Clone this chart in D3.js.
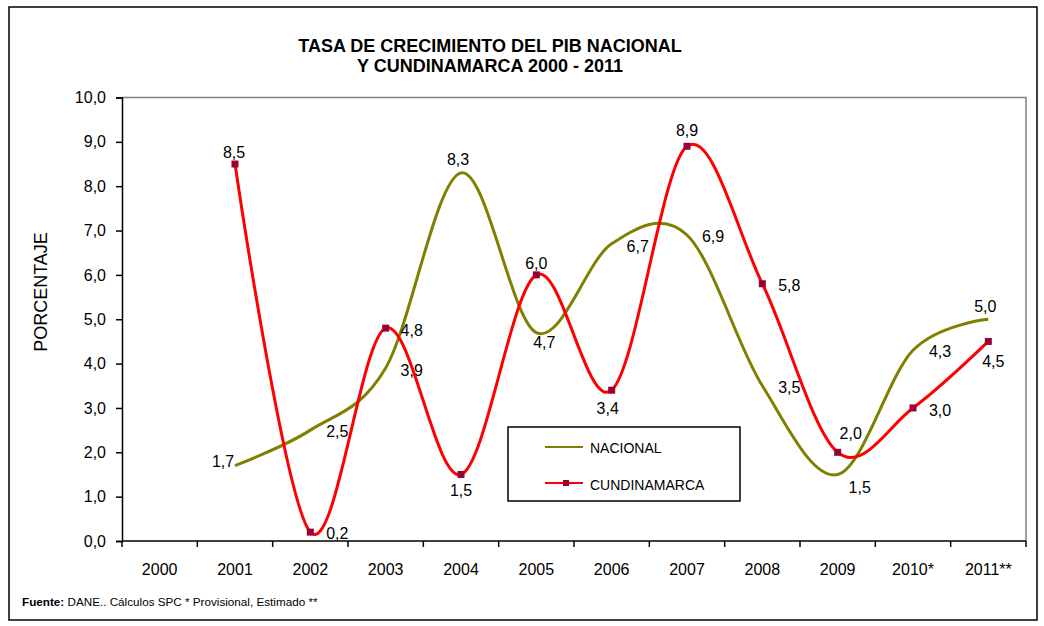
<!DOCTYPE html>
<html>
<head>
<meta charset="utf-8">
<script src="https://cdn.jsdelivr.net/npm/d3@7"></script>
<style>
  body { margin: 0; background: #fff; }
  svg text { font-family: Arial, "Liberation Sans", sans-serif; fill: #000; }
</style>
</head>
<body>
<div id="chart"></div>
<script>
// Datos
const years = ["2000", "2001", "2002", "2003", "2004", "2005", "2006", "2007", "2008", "2009", "2010*", "2011**"];
const nacional = [null, 1.7, 2.5, 3.9, 8.3, 4.7, 6.7, 6.9, 3.5, 1.5, 4.3, 5.0];
const cundinamarca = [null, 8.5, 0.2, 4.8, 1.5, 6.0, 3.4, 8.9, 5.8, 2.0, 3.0, 4.5];
const yTicks = [0, 1, 2, 3, 4, 5, 6, 7, 8, 9, 10];

// Desplazamiento de las etiquetas de datos [dx, dy] respecto al punto
const nacionalLabelOffsets = [null, [-12, 1], [27, 7], [26, 8], [-3, -8], [8, 15], [26, 8], [26, 7], [27, 7], [22, 19], [27, 7], [-3, -7]];
const cundiLabelOffsets = [null, [-1, -6], [27, 7], [26, 8], [0, 22], [0, -6], [-4, 24], [0, -10], [27, 7], [13, -13], [27, 8], [5, 26]];

const width = 1044;
const height = 626;
const plot = {left: 122, right: 1026, top: 97.5, bottom: 541};

const colorNacional = "#808000";
const colorCundi = "#FF0000";
const colorMarker = "#990033";

const fmt = v => v.toFixed(1).replace(".", ",");

const svg = d3.select("#chart")
  .append("svg")
  .attr("width", width)
  .attr("height", height);

// Marco exterior
svg.append("rect")
  .attr("x", 9).attr("y", 7)
  .attr("width", 1028).attr("height", 613)
  .attr("fill", "none")
  .attr("stroke", "#000")
  .attr("stroke-width", 1.5);

// Título
svg.append("text")
  .attr("x", 490).attr("y", 52)
  .attr("text-anchor", "middle")
  .attr("font-size", 18).attr("font-weight", "bold")
  .text("TASA DE CRECIMIENTO DEL PIB NACIONAL");
svg.append("text")
  .attr("x", 490).attr("y", 72)
  .attr("text-anchor", "middle")
  .attr("font-size", 18).attr("font-weight", "bold")
  .text("Y CUNDINAMARCA 2000 - 2011");

// Escalas
const x = d3.scaleBand().domain(years).range([plot.left, plot.right]).padding(0);
const y = d3.scaleLinear().domain([0, 10]).range([plot.bottom, plot.top]);
const cx = d => x(d) + x.bandwidth() / 2;

// Borde del área de trazado (superior y derecho, gris)
svg.append("path")
  .attr("d", `M${plot.left},${plot.top}H${plot.right}V${plot.bottom}`)
  .attr("fill", "none")
  .attr("stroke", "#808080")
  .attr("stroke-width", 1.5);

// Eje Y
const yAxis = svg.append("g")
  .attr("transform", `translate(${plot.left},0)`)
  .call(d3.axisLeft(y).tickValues(yTicks).tickFormat(fmt).tickSize(6).tickPadding(10));
yAxis.select(".domain").attr("stroke", "#000").attr("stroke-width", 1.5);
yAxis.selectAll(".tick line").attr("stroke", "#000").attr("stroke-width", 1.5);
yAxis.selectAll(".tick text")
  .attr("font-size", 16)
  .attr("font-family", "Arial, 'Liberation Sans', sans-serif")
  .attr("fill", "#000");

// Eje X (marcas entre categorías)
const xAxis = svg.append("g");
xAxis.append("line")
  .attr("x1", plot.left).attr("x2", plot.right)
  .attr("y1", plot.bottom).attr("y2", plot.bottom)
  .attr("stroke", "#000").attr("stroke-width", 1.5);
const boundaries = years.map(d => x(d)).concat([x(years[years.length - 1]) + x.bandwidth()]);
xAxis.selectAll("line.tick")
  .data(boundaries)
  .join("line")
  .attr("class", "tick")
  .attr("x1", d => d).attr("x2", d => d)
  .attr("y1", plot.bottom).attr("y2", plot.bottom + 6)
  .attr("stroke", "#000").attr("stroke-width", 1.5);
xAxis.selectAll("text")
  .data(years)
  .join("text")
  .attr("x", d => cx(d))
  .attr("y", 575)
  .attr("text-anchor", "middle")
  .attr("font-size", 16)
  .text(d => d);

// Título del eje Y
svg.append("text")
  .attr("transform", "translate(47,292) rotate(-90)")
  .attr("text-anchor", "middle")
  .attr("font-size", 18)
  .text("PORCENTAJE");

// Líneas suavizadas
const pointsNac = years.map((d, i) => ({year: d, value: nacional[i], off: nacionalLabelOffsets[i]})).filter(d => d.value != null);
const pointsCun = years.map((d, i) => ({year: d, value: cundinamarca[i], off: cundiLabelOffsets[i]})).filter(d => d.value != null);

const line = d3.line()
  .x(d => cx(d.year))
  .y(d => y(d.value))
  .curve(d3.curveCardinal.tension(0));

svg.append("path")
  .datum(pointsNac)
  .attr("d", line)
  .attr("fill", "none")
  .attr("stroke", colorNacional)
  .attr("stroke-width", 3);

svg.append("path")
  .datum(pointsCun)
  .attr("d", line)
  .attr("fill", "none")
  .attr("stroke", colorCundi)
  .attr("stroke-width", 3);

// Marcadores Cundinamarca
svg.selectAll("rect.marker")
  .data(pointsCun)
  .join("rect")
  .attr("class", "marker")
  .attr("x", d => cx(d.year) - 3.5)
  .attr("y", d => y(d.value) - 3.5)
  .attr("width", 7).attr("height", 7)
  .attr("fill", colorMarker);

// Etiquetas de datos
function addLabels(points) {
  svg.append("g")
    .selectAll("text")
    .data(points)
    .join("text")
    .attr("x", d => cx(d.year) + d.off[0])
    .attr("y", d => y(d.value) + d.off[1])
    .attr("text-anchor", "middle")
    .attr("font-size", 16)
    .text(d => fmt(d.value));
}
addLabels(pointsNac);
addLabels(pointsCun);

// Leyenda
const legend = svg.append("g");
legend.append("rect")
  .attr("x", 508).attr("y", 427)
  .attr("width", 232).attr("height", 74)
  .attr("fill", "#fff")
  .attr("stroke", "#000")
  .attr("stroke-width", 1.5);
legend.append("line")
  .attr("x1", 545).attr("x2", 583)
  .attr("y1", 447).attr("y2", 447)
  .attr("stroke", colorNacional).attr("stroke-width", 2);
legend.append("text")
  .attr("x", 590).attr("y", 453)
  .attr("font-size", 14)
  .text("NACIONAL");
legend.append("line")
  .attr("x1", 545).attr("x2", 583)
  .attr("y1", 483).attr("y2", 483)
  .attr("stroke", colorCundi).attr("stroke-width", 2);
legend.append("rect")
  .attr("x", 563).attr("y", 480)
  .attr("width", 6).attr("height", 6)
  .attr("fill", colorMarker);
legend.append("text")
  .attr("x", 590).attr("y", 490)
  .attr("font-size", 14)
  .text("CUNDINAMARCA");

// Fuente
const foot = svg.append("text")
  .attr("x", 22).attr("y", 606)
  .attr("font-size", 11.7);
foot.append("tspan").attr("font-weight", "bold").text("Fuente:");
foot.append("tspan").text(" DANE.. Cálculos SPC * Provisional, Estimado **");
</script>
</body>
</html>
